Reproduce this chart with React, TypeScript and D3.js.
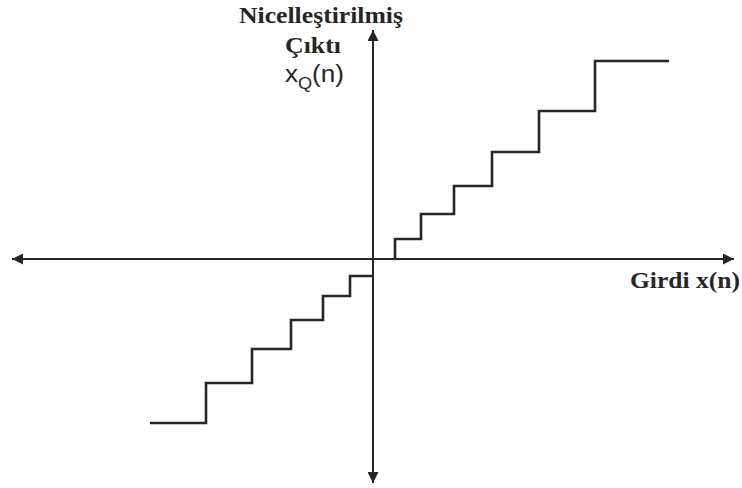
import React from "react";
import * as d3 from "d3";

// Quantizer staircase data (arbitrary input/output units)
const posThresholds = [0.22, 0.48, 0.81, 1.19, 1.66, 2.22];
const posLevels = [0.2, 0.45, 0.73, 1.07, 1.48, 1.98];
const posEnd = 2.96;

const negThresholds = [0, -0.23, -0.5, -0.82, -1.21, -1.67];
const negLevels = [-0.17, -0.37, -0.61, -0.9, -1.24, -1.64];
const negEnd = -2.23;

const xDomain = [-3.61, 3.61];
const yDomain = [-2.24, 2.29];

const titleLines = ["Nicelleştirilmiş", "Çıktı"];
const xLabel = "Girdi x(n)";

const W = 742;
const H = 488;

export default function App() {
  const x = d3.scaleLinear().domain(xDomain).range([12, 734]);
  const y = d3.scaleLinear().domain(yDomain).range([483, 30]);

  const posPts: [number, number][] = [[posThresholds[0], 0]];
  posThresholds.forEach((t, i) => posPts.push([t, posLevels[i]]));
  posPts.push([posEnd, posLevels[posLevels.length - 1]]);

  const negPts: [number, number][] = [];
  negThresholds.forEach((t, i) => negPts.push([t, negLevels[i]]));
  negPts.push([negEnd, negLevels[negLevels.length - 1]]);

  const line = d3
    .line<[number, number]>()
    .x((d) => x(d[0]))
    .y((d) => y(d[1]))
    .curve(d3.curveStepAfter);

  const x0 = x(0);
  const y0 = y(0);
  const serif = "'Liberation Serif', 'Times New Roman', serif";
  const sans = "'Liberation Sans', Arial, sans-serif";
  const ink = "#262626";

  return (
    <svg
      width={W}
      height={H}
      style={{ position: "absolute", left: 0, top: 0, background: "#fff" }}
    >
      <defs>
        <marker
          id="arr"
          viewBox="0 0 10 10"
          refX="10"
          refY="5"
          markerWidth="6.5"
          markerHeight="5.5"
          markerUnits="strokeWidth"
          orient="auto-start-reverse"
        >
          <path d="M0,0 L10,5 L0,10 z" fill={ink} />
        </marker>
      </defs>

      {/* horizontal axis */}
      <line
        x1={x(xDomain[0])}
        x2={x(xDomain[1])}
        y1={y0}
        y2={y0}
        stroke={ink}
        strokeWidth={2}
        markerStart="url(#arr)"
        markerEnd="url(#arr)"
      />
      {/* vertical axis */}
      <line
        x1={x0}
        x2={x0}
        y1={y(yDomain[0])}
        y2={y(yDomain[1])}
        stroke={ink}
        strokeWidth={2}
        markerStart="url(#arr)"
        markerEnd="url(#arr)"
      />

      <path d={line(posPts) || ""} fill="none" stroke={ink} strokeWidth={2.6} />
      <path d={line(negPts) || ""} fill="none" stroke={ink} strokeWidth={2.6} />

      <text
        x={321}
        y={23}
        textAnchor="middle"
        fontFamily={serif}
        fontWeight="bold"
        fontSize={24}
        fill={ink}
        textLength={164}
        lengthAdjust="spacingAndGlyphs"
      >
        {titleLines[0]}
      </text>
      <text
        x={313}
        y={53}
        textAnchor="middle"
        fontFamily={serif}
        fontWeight="bold"
        fontSize={24}
        fill={ink}
        textLength={56}
        lengthAdjust="spacingAndGlyphs"
      >
        {titleLines[1]}
      </text>
      <text
        x={285}
        y={82}
        fontFamily={sans}
        fontSize={23}
        fill={ink}
        textLength={59}
        lengthAdjust="spacingAndGlyphs"
      >
        x
        <tspan fontSize={16} dy={7}>
          Q
        </tspan>
        <tspan fontSize={23} dy={-7}>
          (n)
        </tspan>
      </text>

      <text
        x={630}
        y={288}
        fontFamily={serif}
        fontWeight="bold"
        fontSize={23}
        fill={ink}
        textLength={110}
        lengthAdjust="spacingAndGlyphs"
      >
        {xLabel}
      </text>
    </svg>
  );
}
